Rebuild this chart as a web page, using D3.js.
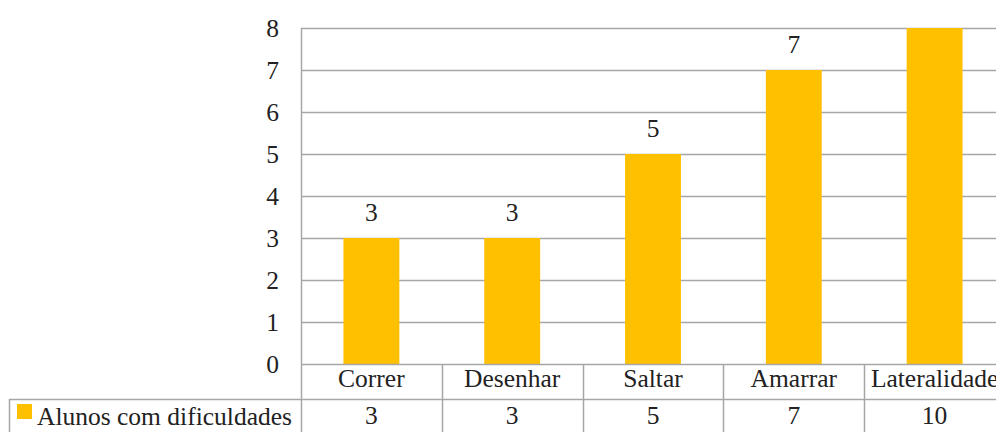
<!DOCTYPE html>
<html><head><meta charset="utf-8">
<script src="https://cdn.jsdelivr.net/npm/d3@7/dist/d3.min.js"></script>
<style>
html,body{margin:0;padding:0;background:#fff;overflow:hidden;}
svg{display:block;}
</style></head>
<body>
<script>
const categories = ["Correr","Desenhar","Saltar","Amarrar","Lateralidade"];
const values = [3,3,5,7,10];
const seriesName = "Alunos com dificuldades";
const yTicks = [0,1,2,3,4,5,6,7,8];

(function(){
const W = 996, H = 432;
const pLeft = 301, pRight = 1005, pTop = 28, pBottom = 364;
const row1 = 399;
const FONT = '"Liberation Serif"';
const FS = 25.5;

const svg = d3.select("body").append("svg").attr("width", W).attr("height", H);

const x = d3.scaleBand().domain(categories).range([pLeft, pRight]).paddingInner(0.603).paddingOuter(0.3015);
const xc = d3.scaleBand().domain(categories).range([pLeft, pRight]).padding(0);
const y = d3.scaleLinear().domain([0, 8]).range([pBottom, pTop]);

const lineColor = "#a6a6a6";
const textColor = "#222";

function txt(sel) {
  return sel.style("font-family", FONT).style("font-size", FS + "px").attr("fill", textColor);
}

// gridlines
svg.append("g").selectAll("line").data(yTicks.filter(d => d > 0)).join("line")
  .attr("x1", pLeft).attr("x2", pRight)
  .attr("y1", d => Math.round(y(d)) + 0.5).attr("y2", d => Math.round(y(d)) + 0.5)
  .attr("stroke", lineColor).attr("stroke-width", 1.5);

// clip
svg.append("clipPath").attr("id", "plot").append("rect")
  .attr("x", pLeft).attr("y", pTop).attr("width", pRight - pLeft).attr("height", pBottom - pTop);

// bars
svg.append("g").attr("clip-path", "url(#plot)").selectAll("rect").data(categories).join("rect")
  .attr("x", d => x(d)).attr("width", x.bandwidth())
  .attr("y", (d, i) => y(values[i])).attr("height", (d, i) => pBottom - y(values[i]))
  .attr("fill", "#FFC000");

// data labels (only those within the plot)
txt(svg.append("g").selectAll("text").data(categories.filter((d, i) => values[i] <= 7)).join("text")
  .attr("x", d => x(d) + x.bandwidth() / 2)
  .attr("y", d => y(values[categories.indexOf(d)]) - 17)
  .attr("text-anchor", "middle"))
  .text(d => values[categories.indexOf(d)]);

// y axis tick labels
txt(svg.append("g").selectAll("text").data(yTicks).join("text")
  .attr("x", 279).attr("y", d => y(d) + 8.5)
  .attr("text-anchor", "end"))
  .text(d => d);

// axes lines
svg.append("line").attr("x1", pLeft + 0.5).attr("x2", pLeft + 0.5).attr("y1", pTop).attr("y2", H)
  .attr("stroke", lineColor).attr("stroke-width", 1.5);
svg.append("line").attr("x1", pLeft).attr("x2", pRight).attr("y1", pBottom + 0.5).attr("y2", pBottom + 0.5)
  .attr("stroke", lineColor).attr("stroke-width", 1.5);

// table lines
svg.append("line").attr("x1", 9).attr("x2", pRight).attr("y1", row1 + 0.5).attr("y2", row1 + 0.5)
  .attr("stroke", lineColor).attr("stroke-width", 1.5);
svg.append("line").attr("x1", 9.5).attr("x2", 9.5).attr("y1", row1).attr("y2", H)
  .attr("stroke", lineColor).attr("stroke-width", 1.5);
svg.append("g").selectAll("line").data(categories).join("line")
  .attr("x1", d => Math.round(xc(d) + xc.bandwidth()) + 0.5)
  .attr("x2", d => Math.round(xc(d) + xc.bandwidth()) + 0.5)
  .attr("y1", pBottom).attr("y2", H)
  .attr("stroke", lineColor).attr("stroke-width", 1.5);

// category labels
txt(svg.append("g").selectAll("text").data(categories).join("text")
  .attr("x", d => xc(d) + xc.bandwidth() / 2).attr("y", 387)
  .attr("text-anchor", "middle"))
  .text(d => d);

// values row
txt(svg.append("g").selectAll("text").data(categories).join("text")
  .attr("x", d => xc(d) + xc.bandwidth() / 2).attr("y", 424)
  .attr("text-anchor", "middle"))
  .text((d, i) => values[i]);

// legend key
svg.append("rect").attr("x", 17).attr("y", 404).attr("width", 15).attr("height", 15).attr("fill", "#FFC000");
txt(svg.append("text").attr("x", 37).attr("y", 425)).text(seriesName);
})();
</script>
</body></html>
